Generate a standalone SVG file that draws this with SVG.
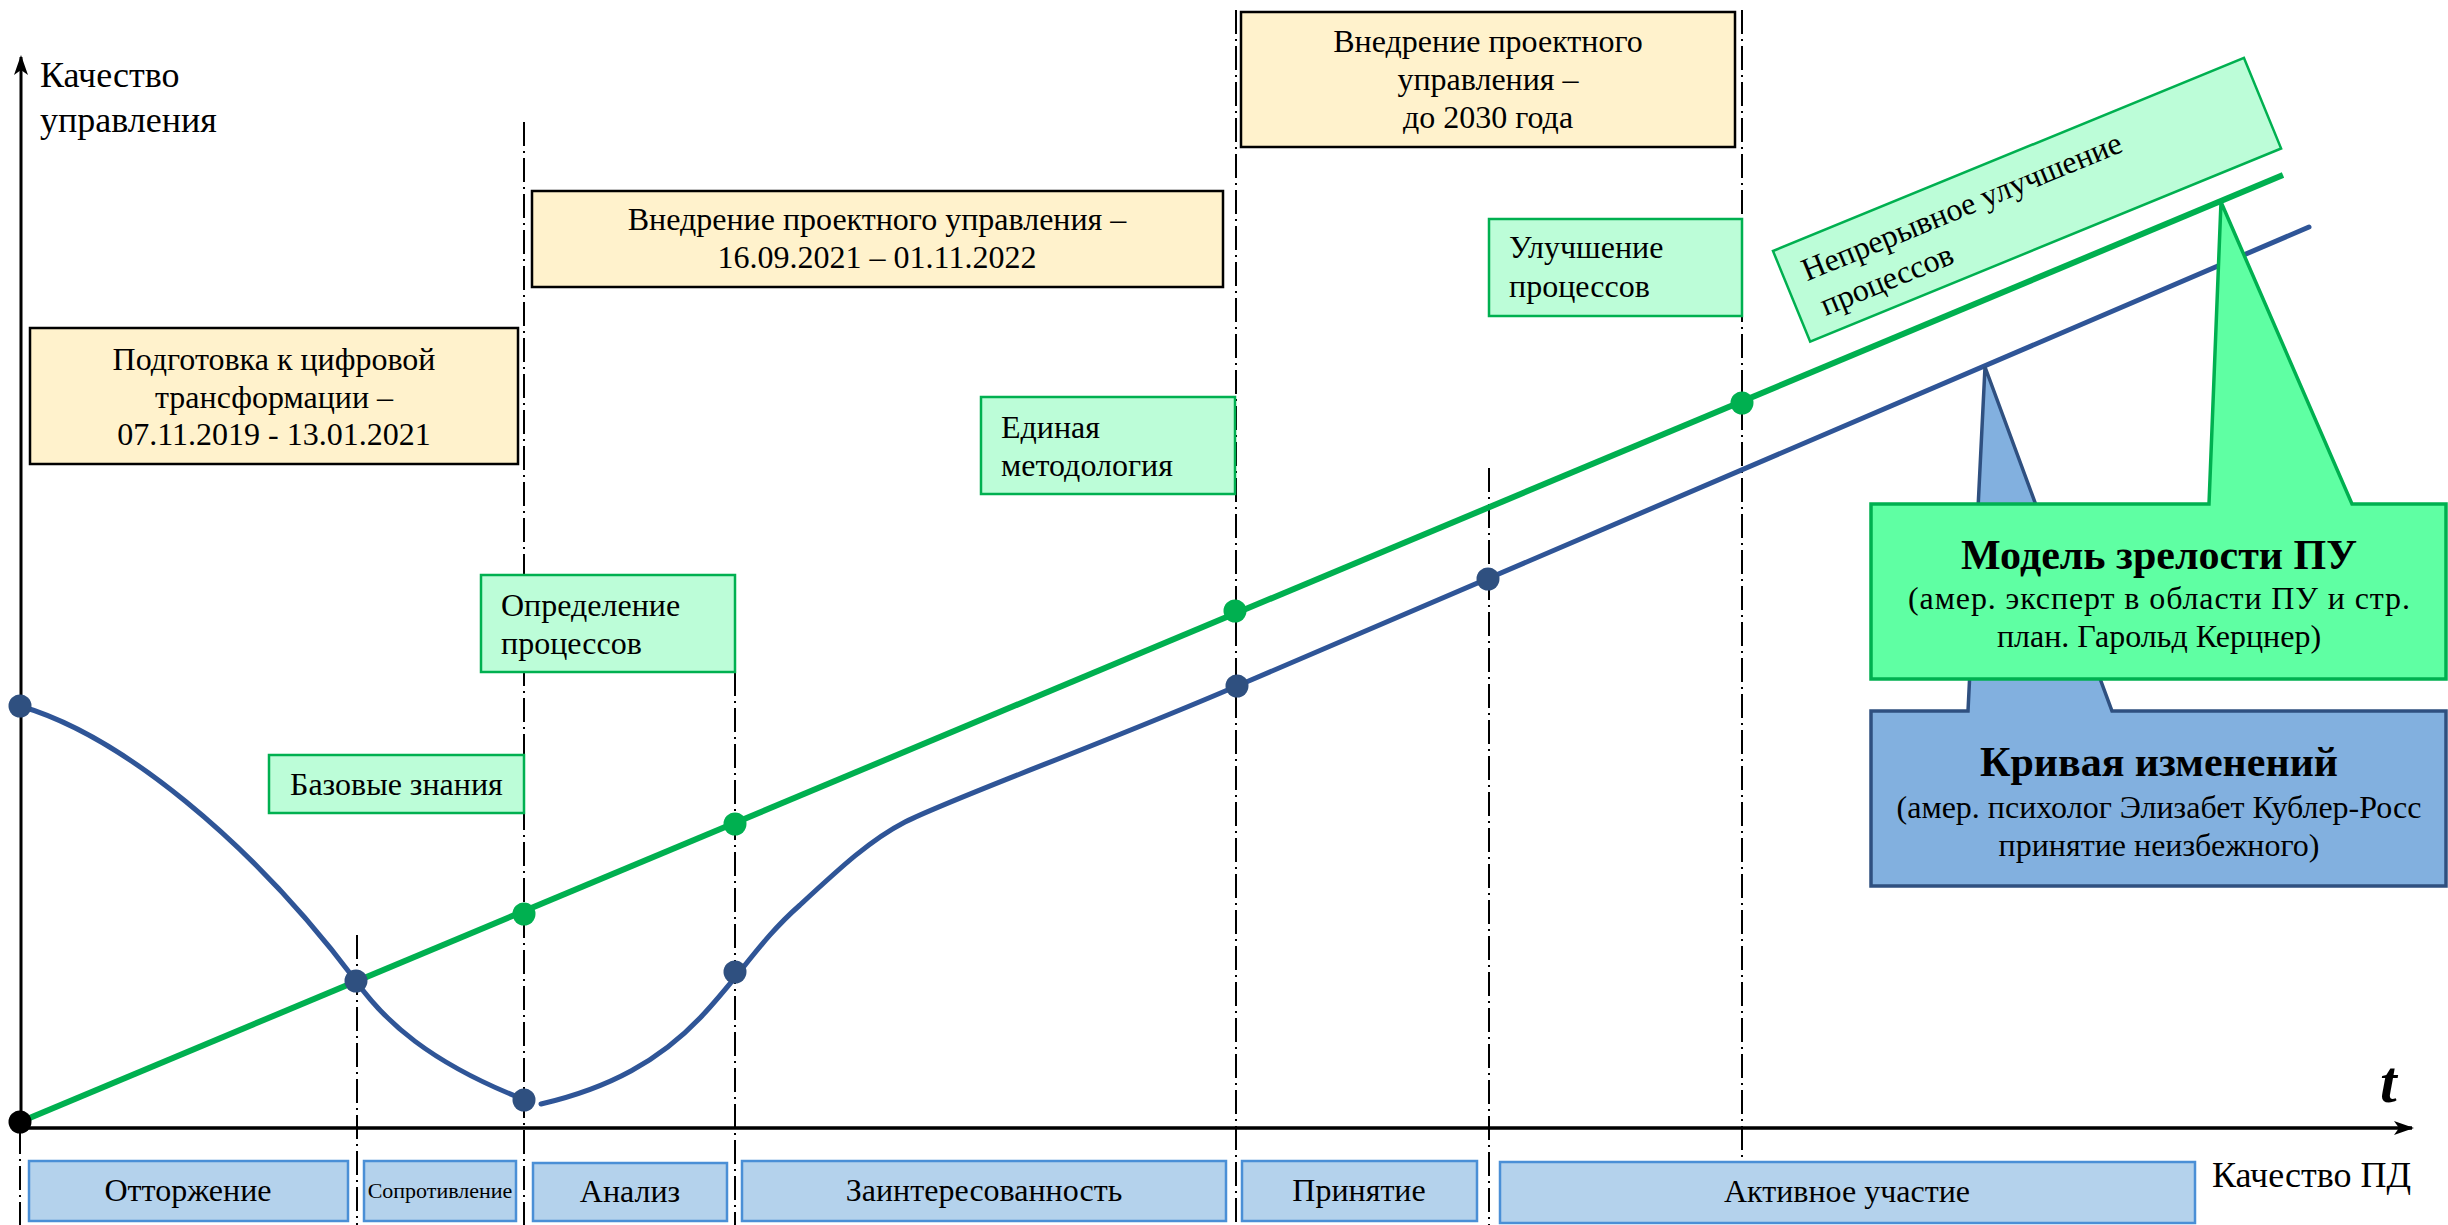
<svg xmlns="http://www.w3.org/2000/svg" width="2448" height="1225" viewBox="0 0 2448 1225">
<style>
text{font-family:"Liberation Serif","Times New Roman",serif;fill:#000}
.t32{font-size:32px}
.t36{font-size:36px}
.c{text-anchor:middle}
.yel{fill:#FFF2CC;stroke:#000;stroke-width:2.5}
.grn{fill:#BCFDD8;stroke:#00B050;stroke-width:2.5}
.phase{fill:#B4D2EC;stroke:#4A8FD6;stroke-width:2.5}
.dash{stroke:#000;stroke-width:2;stroke-dasharray:24 5 2 5;fill:none}
.gline{stroke:#00B050;stroke-width:6;fill:none}
.bline{stroke:#2F5597;stroke-width:5;fill:none;stroke-linecap:round}
.gdot{fill:#00B050}
.bdot{fill:#2F5080}
.title{font-size:42px;font-weight:bold}
.sub{font-size:32px}
</style>
<defs>
<marker id="arr" viewBox="0 0 20 14" refX="18" refY="7" markerWidth="20" markerHeight="14" markerUnits="userSpaceOnUse" orient="auto">
<path d="M0,0 L20,7 L0,14 L5,7 Z" fill="#000"/>
</marker>
</defs>

<g id="guides">
<line class="dash" x1="20" y1="1130" x2="20" y2="1225"/>
<line class="dash" x1="357" y1="935" x2="357" y2="1225"/>
<line class="dash" x1="524" y1="122" x2="524" y2="1225"/>
<line class="dash" x1="735" y1="672" x2="735" y2="1225"/>
<line class="dash" x1="1236" y1="10" x2="1236" y2="1225"/>
<line class="dash" x1="1489" y1="468" x2="1489" y2="1225"/>
<line class="dash" x1="1742" y1="10" x2="1742" y2="1225"/>
</g>

<g id="axes">
<line x1="21" y1="1128" x2="21" y2="57" stroke="#000" stroke-width="3" marker-end="url(#arr)"/>
<line x1="19" y1="1128" x2="2412" y2="1128" stroke="#000" stroke-width="3.5" marker-end="url(#arr)"/>
<text class="t36" x="40" y="87">Качество</text>
<text class="t36" x="40" y="132">управления</text>
<text x="2380" y="1102" style="font-size:60px;font-weight:bold;font-style:italic">t</text>
<text class="t36" x="2212" y="1187">Качество ПД</text>
</g>

<g id="connectors">
<line class="gline" x1="20" y1="1122" x2="2283" y2="175"/>
<path class="bline" d="M20,706 C120,735 250,840 356,981 C385,1022 430,1062 520,1098"/>
<path class="bline" d="M541,1104 C610,1088 660,1060 700,1018 C740,976 760,940 800,905 C840,868 870,840 905,822 C960,795 1100,745 1237,686 L2309,227"/>
</g>

<g id="points">
<circle cx="20" cy="1122" r="11.5" fill="#000"/>
<circle class="bdot" cx="20" cy="706" r="11.5"/>
<circle class="bdot" cx="356" cy="981" r="11.5"/>
<circle class="bdot" cx="524" cy="1100" r="11.5"/>
<circle class="bdot" cx="735" cy="972" r="11.5"/>
<circle class="bdot" cx="1237" cy="686" r="11.5"/>
<circle class="bdot" cx="1488" cy="579" r="11.5"/>
<circle class="gdot" cx="524" cy="914" r="11.5"/>
<circle class="gdot" cx="735" cy="824" r="11.5"/>
<circle class="gdot" cx="1235" cy="611" r="11.5"/>
<circle class="gdot" cx="1742" cy="403" r="11.5"/>
</g>

<g id="stage1">
<rect class="yel" x="30" y="328" width="488" height="136"/>
<text class="t32 c" x="274" y="370">Подготовка к цифровой</text>
<text class="t32 c" x="274" y="408">трансформации –</text>
<text class="t32 c" x="274" y="445">07.11.2019 - 13.01.2021</text>
</g>
<g id="stage2">
<rect class="yel" x="532" y="191" width="691" height="96"/>
<text class="t32 c" x="877" y="230">Внедрение проектного управления –</text>
<text class="t32 c" x="877" y="268">16.09.2021 – 01.11.2022</text>
</g>
<g id="stage3">
<rect class="yel" x="1241" y="12" width="494" height="135"/>
<text class="t32 c" x="1488" y="52">Внедрение проектного</text>
<text class="t32 c" x="1488" y="90">управления –</text>
<text class="t32 c" x="1488" y="128">до 2030 года</text>
</g>

<g id="basic">
<rect class="grn" x="269" y="755" width="255" height="58"/>
<text class="t32" x="290" y="795">Базовые знания</text>
</g>
<g id="definition">
<rect class="grn" x="481" y="575" width="254" height="97"/>
<text class="t32" x="501" y="616">Определение</text>
<text class="t32" x="501" y="654">процессов</text>
</g>
<g id="method">
<rect class="grn" x="981" y="397" width="254" height="97"/>
<text class="t32" x="1001" y="438">Единая</text>
<text class="t32" x="1001" y="476">методология</text>
</g>
<g id="improve">
<rect class="grn" x="1489" y="219" width="253" height="97"/>
<text class="t32" x="1509" y="258">Улучшение</text>
<text class="t32" x="1509" y="297">процессов</text>
</g>
<g id="continuous" transform="translate(1773,251) rotate(-22.3)">
<rect class="grn" x="0" y="0" width="509" height="98"/>
<text class="t32" x="20" y="41">Непрерывное улучшение</text>
<text class="t32" x="24" y="80">процессов</text>
</g>

<g id="curve-callout">
<path d="M1871,711 L1968,711 L1985,367 L2112,711 L2446,711 L2446,886 L1871,886 Z" fill="#82B0DF" stroke="#2F5080" stroke-width="3.5"/>
<text class="title c" x="2159" y="776">Кривая изменений</text>
<text class="sub c" x="2159" y="818">(амер. психолог Элизабет Кублер-Росс</text>
<text class="sub c" x="2159" y="856">принятие неизбежного)</text>
</g>
<g id="maturity-callout">
<path d="M1871,504 L2209,504 L2221,202 L2352,504 L2446,504 L2446,679 L1871,679 Z" fill="#5FFFA3" stroke="#00B050" stroke-width="3.5"/>
<text class="title c" x="2159" y="569">Модель зрелости ПУ</text>
<text class="sub c" x="2159" y="609" textLength="502" lengthAdjust="spacing">(амер. эксперт в области ПУ и стр.</text>
<text class="sub c" x="2159" y="647">план. Гарольд Керцнер)</text>
</g>

<g id="phase1"><rect class="phase" x="29" y="1161" width="319" height="60"/><text class="t32 c" x="188" y="1201">Отторжение</text></g>
<g id="phase2"><rect class="phase" x="364" y="1161" width="152" height="60"/><text class="c" style="font-size:22px" x="440" y="1198">Сопротивление</text></g>
<g id="phase3"><rect class="phase" x="533" y="1163" width="194" height="58"/><text class="t32 c" x="630" y="1202">Анализ</text></g>
<g id="phase4"><rect class="phase" x="742" y="1161" width="484" height="60"/><text class="t32 c" x="984" y="1201">Заинтересованность</text></g>
<g id="phase5"><rect class="phase" x="1242" y="1161" width="235" height="60"/><text class="t32 c" x="1359" y="1201">Принятие</text></g>
<g id="phase6"><rect class="phase" x="1500" y="1162" width="695" height="61"/><text class="t32 c" x="1847" y="1202">Активное участие</text></g>
</svg>
